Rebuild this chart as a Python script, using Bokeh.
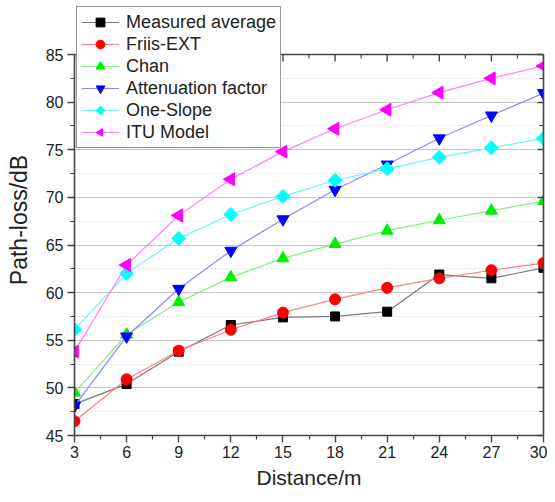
import numpy as np
from bokeh.plotting import figure
from bokeh.models import (Legend, LegendItem, LinearAxis, Range1d, FixedTicker,
                          Span, ColumnDataSource)
from bokeh.embed import file_html
from bokeh.resources import INLINE

distance = [3, 6, 9, 12, 15, 18, 21, 24, 27, 30]
measured = [48.3, 50.4, 53.8, 56.6, 57.4, 57.5, 58.0, 61.9, 61.5, 62.6]
friis = [46.5, 50.9, 53.9, 56.1, 57.9, 59.3, 60.5, 61.5, 62.35, 63.1]
chan = [49.5, 55.6, 59.0, 61.6, 63.6, 65.1, 66.5, 67.6, 68.6, 69.6]
atten = [48.1, 55.4, 60.4, 64.4, 67.7, 70.8, 73.45, 76.2, 78.6, 80.95]
one_slope = [56.1, 62.0, 65.7, 68.2, 70.1, 71.8, 73.0, 74.2, 75.2, 76.2]
itu = [53.8, 62.9, 68.1, 71.9, 74.8, 77.2, 79.2, 81.0, 82.5, 83.8]

x_ticks = [3, 6, 9, 12, 15, 18, 21, 24, 27, 30]
y_ticks = [45, 50, 55, 60, 65, 70, 75, 80, 85]

# (label, values, marker colour, line colour, marker kind, size, ngon sides, ngon angle)
series = [
    ("Measured average", measured, "#000000", "#7a7a7a", "square", 9, 0, 0.0),
    ("Friis-EXT", friis, "#ff0000", "#ff8080", "circle", 11, 0, 0.0),
    ("Chan", chan, "#00ee00", "#80ee80", "triangle", 12, 0, 0.0),
    ("Attenuation factor", atten, "#0000ff", "#8888ff", "inverted_triangle", 12, 0, 0.0),
    ("One-Slope", one_slope, "#00ffff", "#70f0f0", "ngon", 7, 4, 0.0),
    ("ITU Model", itu, "#ff00ff", "#ff80ff", "ngon", 7.5, 3, np.pi / 2),
]

FONT = "Liberation Sans"
AX = "#444444"
W, H = 547, 494
BL, BR, BT, BB = 74, 4, 4, 59
Y_LO, Y_HI = y_ticks[0], y_ticks[-1]
frame_h = H - BT - BB
px_per_unit = 381.0 / (Y_HI - Y_LO)
y_top = Y_LO + frame_h / px_per_unit

p = figure(width=W, height=H, output_backend="svg", toolbar_location=None,
           x_range=Range1d(x_ticks[0], x_ticks[-1]), y_range=Range1d(Y_LO, y_top),
           min_border_left=BL, min_border_right=BR, min_border_top=BT, min_border_bottom=BB,
           x_axis_label="Distance/m", y_axis_label="Path-loss/dB")
p.outline_line_color = None
p.background_fill_color = "white"

x_minor = [v + 1.5 for v in x_ticks[:-1]]
xt = FixedTicker(ticks=x_ticks, minor_ticks=x_minor)
yt = FixedTicker(ticks=y_ticks, minor_ticks=[v + 2.5 for v in y_ticks[:-1]])

def style_axis(ax):
    ax.axis_line_color = AX
    ax.axis_line_width = 1.6
    ax.major_tick_line_color = AX
    ax.minor_tick_line_color = AX
    ax.major_tick_line_width = 1.4
    ax.minor_tick_line_width = 1.2

for ax in (p.xaxis[0], p.yaxis[0]):
    style_axis(ax)
    ax.major_tick_in = 0
    ax.major_tick_out = 7
    ax.minor_tick_in = 0
    ax.minor_tick_out = 4
    ax.major_label_text_font = FONT
    ax.major_label_text_font_size = "16px"
    ax.major_label_text_color = "#222222"
    ax.axis_label_text_font = FONT
    ax.axis_label_text_font_style = "normal"
    ax.axis_label_text_color = "#222222"
p.xaxis[0].ticker = xt
p.yaxis[0].ticker = yt
p.yaxis[0].bounds = (Y_LO, Y_HI)
p.xaxis[0].axis_label_text_font_size = "21px"
p.yaxis[0].axis_label_text_font_size = "23px"
p.xaxis[0].major_label_standoff = 3
p.yaxis[0].major_label_standoff = 4
p.xaxis[0].axis_label_standoff = 5
p.yaxis[0].axis_label_standoff = 11

rax = LinearAxis(ticker=yt, bounds=(Y_LO, Y_HI))
style_axis(rax)
rax.major_tick_in = 6
rax.major_tick_out = 0
rax.minor_tick_in = 4
rax.minor_tick_out = 0
rax.major_label_standoff = 0
rax.major_label_text_font_size = "0px"
rax.major_label_text_color = None
p.add_layout(rax, "right")

p.xgrid.visible = False
p.ygrid.ticker = yt
p.ygrid.grid_line_color = "#c8c8c8"
p.ygrid.grid_line_width = 1.2
p.ygrid.minor_grid_line_color = "#dcdcdc"
p.ygrid.minor_grid_line_dash = "2 2"
p.ygrid.minor_grid_line_width = 1

# top edge of the axes box with inward ticks
p.add_layout(Span(location=Y_HI, dimension="width", line_color=AX, line_width=1.6))
p.ray(x=x_ticks, y=[Y_HI] * len(x_ticks), length=7, length_units="screen",
      angle=-np.pi / 2, line_color=AX, line_width=1.4)
p.ray(x=x_minor, y=[Y_HI] * len(x_minor), length=4, length_units="screen",
      angle=-np.pi / 2, line_color=AX, line_width=1.2)

items = []
for name, vals, mc, lc, marker, size, nsides, ang in series:
    src = ColumnDataSource(dict(x=distance, y=vals))
    ln = p.line("x", "y", source=src, line_color=lc, line_width=1.2)
    if marker == "ngon":
        sc = p.ngon("x", "y", source=src, radius=size, radius_units="screen",
                    n=nsides, angle=ang, fill_color=mc, line_color=mc)
    else:
        sc = p.scatter("x", "y", source=src, marker=marker, size=size,
                       fill_color=mc, line_color=mc)
    items.append(LegendItem(label=name, renderers=[ln, sc]))

legend_h = 6 * 22 + 2 * 4
legend = Legend(items=items, location=(2, frame_h - 4 - legend_h))
legend.label_text_font = FONT
legend.label_text_font_size = "18px"
legend.label_text_color = "#222222"
legend.glyph_width = 38
legend.glyph_height = 22
legend.label_height = 22
legend.spacing = 0
legend.padding = 4
legend.margin = 0
legend.label_standoff = 7
legend.border_line_color = "#333333"
legend.border_line_width = 1.2
legend.background_fill_color = "white"
legend.background_fill_alpha = 1
p.add_layout(legend, "center")

open("out.html", "w").write(file_html(p, INLINE))
